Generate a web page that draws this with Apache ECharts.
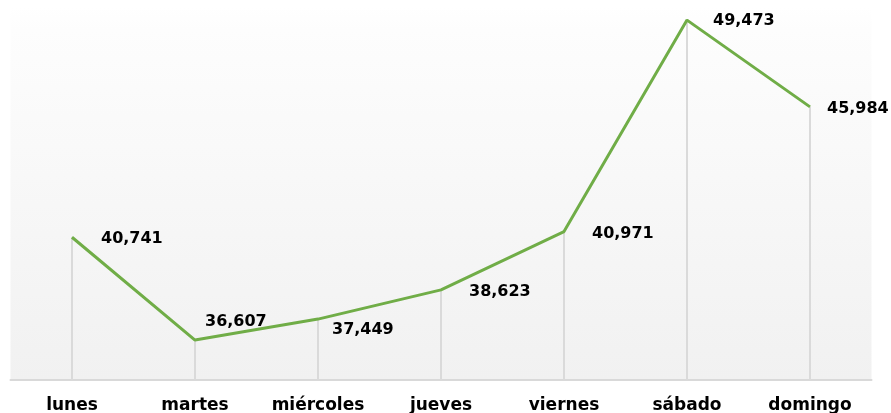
<!DOCTYPE html>
<html>
<head>
<meta charset="utf-8">
<script src="https://cdn.jsdelivr.net/npm/echarts@6/dist/echarts.min.js"></script>
<style>
  html, body { margin: 0; padding: 0; background: #fff; }
  #chart { width: 891px; height: 413px; }
</style>
</head>
<body>
<div id="chart"></div>
<script>
// days of the week
const days = ['lunes', 'martes', 'miércoles', 'jueves', 'viernes', 'sábado', 'domingo'];
// values per day
const values = [40741, 36607, 37449, 38623, 40971, 49473, 45984];
// where each data label sits relative to its point
const labelOffsets = [[24, 2], [5, -18], [9, 11], [23, 2], [23, 2], [21, 1], [12, 2]];

const fmt = v => v.toLocaleString('en-US');

const lineData = values.map((v, i) => ({
  value: v,
  label: {
    show: true,
    position: 'right',
    offset: labelOffsets[i],
    formatter: p => fmt(p.value),
  },
}));

const myChart = echarts.init(document.getElementById('chart'));
myChart.setOption({
  animation: false,
  grid: {
    left: 10.5,
    right: 19.5,
    top: 7,
    bottom: 33,
    outerBoundsMode: 'none',
    containLabel: false,
    show: true,
    borderWidth: 0,
    backgroundColor: new echarts.graphic.LinearGradient(0, 0, 0, 1, [
      { offset: 0, color: '#ffffff' },
      { offset: 0.06, color: '#fdfdfd' },
      { offset: 1, color: '#f1f1f1' },
    ]),
  },
  xAxis: {
    type: 'category',
    data: days,
    axisTick: { show: false },
    axisLine: { lineStyle: { color: '#d9d9d9', width: 2 } },
    axisLabel: {
      margin: 17,
      color: '#000',
      fontFamily: 'DejaVu Sans',
      fontWeight: 'bold',
      fontSize: 17,
    },
  },
  yAxis: {
    type: 'value',
    min: 35000,
    max: 50000,
    show: false,
    splitLine: { show: false },
  },
  series: [
    {
      // drop lines from each point down to the axis
      type: 'bar',
      data: values,
      barWidth: 2,
      itemStyle: { color: '#dadada' },
      silent: true,
      z: 1,
    },
    {
      type: 'line',
      data: lineData,
      showSymbol: true,
      symbol: 'circle',
      symbolSize: 0,
      lineStyle: { color: '#70ad47', width: 3 },
      itemStyle: { color: '#70ad47' },
      label: {
        color: '#000',
        fontFamily: 'DejaVu Sans',
        fontWeight: 'bold',
        fontSize: 16,
      },
      z: 3,
    },
  ],
});
</script>
</body>
</html>
